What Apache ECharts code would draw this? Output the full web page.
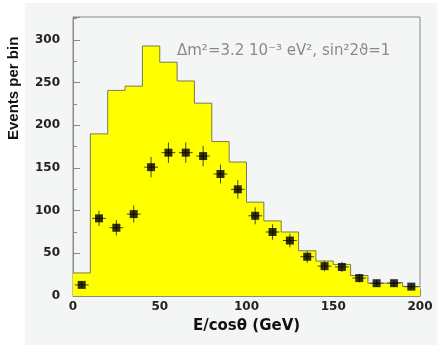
<!DOCTYPE html>
<html>
<head>
<meta charset="utf-8">
<script src="https://cdn.jsdelivr.net/npm/echarts@6/dist/echarts.min.js"></script>
<style>
  html, body { margin: 0; padding: 0; background: #fff; }
  #chart { width: 437px; height: 345px; }
</style>
</head>
<body>
<div id="chart"></div>
<script>
// bin edges every 10 GeV, 0..200
var binStarts = [0, 10, 20, 30, 40, 50, 60, 70, 80, 90, 100, 110, 120, 130, 140, 150, 160, 170, 180, 190]
var binWidth = 10
// yellow histogram (no-oscillation expectation)
var expected = [27, 190, 241, 246, 293, 274, 252, 226, 181, 157, 110, 88, 75, 53, 41, 37, 24, 15, 16, 11]
// black points (data) at bin centres
var centers = [5, 15, 25, 35, 45, 55, 65, 75, 85, 95, 105, 115, 125, 135, 145, 155, 165, 175, 185, 195]
var observed = [13, 91, 80, 96, 151, 168, 168, 164, 143, 125, 94, 75, 65, 46, 35, 34, 21, 15, 15, 11]
var errors = [4, 9, 9, 10, 12, 12, 12, 12, 11, 11, 10, 9, 8, 7, 6, 6, 5, 4, 4, 3]
var xTicks = [0, 50, 100, 150, 200]
var yTicks = [0, 50, 100, 150, 200, 250, 300]

var chart = echarts.init(document.getElementById('chart'))

var histData = binStarts.map(function (x, i) { return [x, expected[i]] })
histData.push([binStarts[binStarts.length - 1] + binWidth, expected[expected.length - 1]])

var pointData = centers.map(function (x, i) { return [x, observed[i], errors[i]] })

var labelFont = {
  fontFamily: 'DejaVu Sans',
  fontWeight: 'bold',
  fontSize: 12,
  color: '#222'
}

chart.setOption({
  backgroundColor: '#fff',
  animation: false,
  graphic: [{
    type: 'rect',
    z: -10,
    shape: { x: 25, y: 3, width: 412, height: 342 },
    style: { fill: '#f3f6f5' }
  }, {
    type: 'text',
    z: 10,
    left: 177,
    top: 44,
    style: {
      text: 'Δm²=3.2 10⁻³ eV², sin²2ϑ=1',
      fontFamily: 'DejaVu Sans',
      fontSize: 15,
      letterSpacing: 0.5,
      fill: '#8a8a8a'
    }
  }, {
    type: 'text',
    z: 10,
    x: 6,
    y: 140,
    rotation: Math.PI / 2,
    style: {
      text: 'Events per bin',
      fontFamily: 'Liberation Sans Narrow, Liberation Sans',
      fontWeight: 'bold',
      fontSize: 15,
      fill: '#111'
    }
  }],
  grid: {
    left: 73,
    right: 17,
    top: 17,
    bottom: 49,
    show: true,
    backgroundColor: '#f3f6f5',
    borderColor: '#8a8a8a',
    borderWidth: 1
  },
  xAxis: {
    type: 'value',
    min: xTicks[0],
    max: xTicks[xTicks.length - 1],
    interval: 50,
    name: 'E/cosθ (GeV)',
    nameLocation: 'middle',
    nameGap: 23,
    nameTextStyle: {
      fontFamily: 'DejaVu Sans',
      fontWeight: 'bold',
      fontSize: 15,
      color: '#111'
    },
    axisLine: { lineStyle: { color: '#8a8a8a' } },
    axisTick: { inside: true, length: 7, lineStyle: { color: '#8a8a8a' } },
    minorTick: { show: true, splitNumber: 2, length: 4, lineStyle: { color: '#8a8a8a' } },
    splitLine: { show: false },
    axisLabel: Object.assign({ margin: 5 }, labelFont)
  },
  yAxis: {
    type: 'value',
    min: 0,
    max: 327,
    interval: 50,
    axisLine: { show: true, lineStyle: { color: '#8a8a8a' } },
    axisTick: { inside: true, length: 7, lineStyle: { color: '#8a8a8a' } },
    minorTick: { show: true, splitNumber: 2, length: 4, lineStyle: { color: '#8a8a8a' } },
    splitLine: { show: false },
    axisLabel: Object.assign({ margin: 13, showMaxLabel: false }, labelFont)
  },
  series: [{
    name: 'expected',
    type: 'line',
    step: 'end',
    symbol: 'none',
    data: histData,
    lineStyle: { color: '#7a7a50', width: 1 },
    areaStyle: { color: '#ffff00', opacity: 1 },
    z: 1
  }, {
    name: 'errors',
    type: 'custom',
    data: pointData,
    z: 3,
    renderItem: function (params, api) {
      var x = api.value(0)
      var y = api.value(1)
      var e = api.value(2)
      var top = api.coord([x, y + e])
      var bottom = api.coord([x, y - e])
      var left = api.coord([x - 4, y])
      var right = api.coord([x + 4, y])
      var style = { stroke: '#444', lineWidth: 1 }
      return {
        type: 'group',
        children: [{
          type: 'line',
          shape: { x1: top[0], y1: top[1], x2: bottom[0], y2: bottom[1] },
          style: style
        }, {
          type: 'line',
          shape: { x1: left[0], y1: left[1], x2: right[0], y2: right[1] },
          style: style
        }]
      }
    }
  }, {
    name: 'observed',
    type: 'scatter',
    symbol: 'rect',
    symbolSize: 8,
    data: pointData,
    itemStyle: { color: '#000' },
    z: 4
  }]
})
</script>
</body>
</html>
